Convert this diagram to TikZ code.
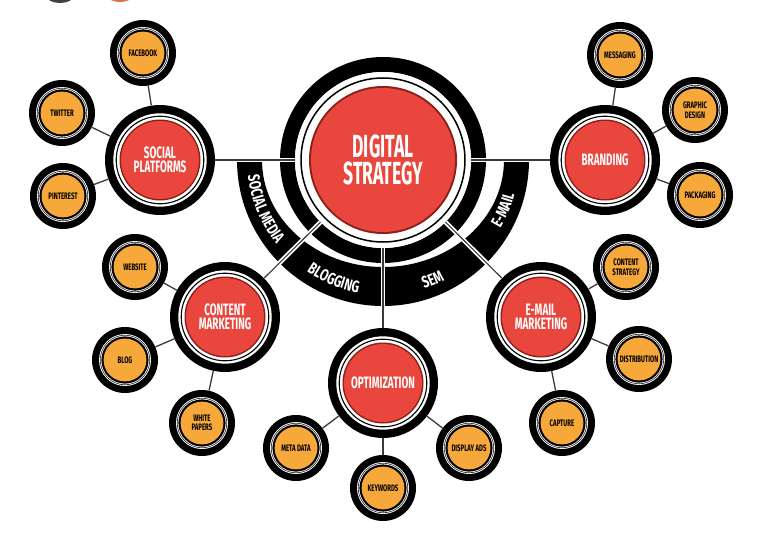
\documentclass[tikz,border=0pt]{standalone}
\usepackage{fontspec}
\usetikzlibrary{decorations.text}
\newfontfamily\hubfont{Fira Sans}[FakeStretch=0.55]
\newfontfamily\redfont{Fira Sans}[FakeStretch=0.6]
\newfontfamily\orfont{Fira Sans}[FakeStretch=0.64]
\newfontfamily\bandfont{Fira Sans}[FakeStretch=0.72]
\definecolor{redc}{HTML}{E9473D}
\definecolor{redd}{HTML}{8E1F1A}
\definecolor{orangec}{HTML}{F7A83B}
\definecolor{linec}{HTML}{3A3A3A}
\definecolor{logoor}{HTML}{E0703A}
\begin{document}
\begin{tikzpicture}[x=1pt,y=-1pt,
  leaf/.style={circle, inner sep=0pt, minimum size=66pt, fill=black, align=center,
    text=black, font=\orfont\bfseries\fontsize{9.4}{9.6}\selectfont,
    path picture={
      \fill[white] (path picture bounding box.center) circle (26pt);
      \fill[black] (path picture bounding box.center) circle (23.6pt);
      \draw[black!85, line width=0.6pt] (path picture bounding box.center) circle (24.8pt);
      \fill[orangec] (path picture bounding box.center) circle (21.4pt);}},
  subhub/.style={circle, inner sep=0pt, minimum size=110pt, fill=black, align=center,
    text=white, font=\redfont\bfseries\fontsize{16.5}{14}\selectfont,
    path picture={
      \fill[white] (path picture bounding box.center) circle (46.7pt);
      \draw[black, line width=1.1pt] (path picture bounding box.center) circle (43.8pt);
      \fill[redd] (path picture bounding box.center) circle (40.5pt);
      \fill[redc] (path picture bounding box.center) circle (39pt);}},
  hubnode/.style={circle, inner sep=0pt, minimum size=176pt, fill=white, align=center,
    text=white, font=\hubfont\bfseries\fontsize{32}{27}\selectfont,
    path picture={
      \draw[black, line width=1.5pt] (path picture bounding box.center) circle (82pt);
      \fill[redd] (path picture bounding box.center) circle (74pt);
      \fill[redc] (path picture bounding box.center) circle (72pt);}},
  hubconn/.style={draw=linec, line width=1.1pt, preaction={draw=white, line width=4.5pt}},
  leafconn/.style={draw=linec, line width=1.3pt},
  bandtext/.style={decorate, decoration={text along path, text align=center,
    text={|\color{white}\bandfont\bfseries\fontsize{16.5}{16.5}\selectfont|#1}}}
]
\useasboundingbox (0,0) rectangle (764,543);
% cropped logo fragments at the top edge
\fill[black!75] (60,-20) circle (23pt);
\fill[logoor] (120,-20) circle (22pt);

\coordinate (c) at (383,160);
% outer label band (lower half) and inner ring
\fill[black] (c) ++(0:146) arc[start angle=0, end angle=180, radius=146]
  -- ++(25,0) arc[start angle=180, end angle=0, x radius=121, y radius=107] -- cycle;
\draw[black, line width=15pt] (c) circle (95.5pt);
\path[bandtext={SOCIAL MEDIA}] (c) ++(180:136) arc[start angle=180, end angle=135, radius=136];
\path[bandtext={BLOGGING}] (c) ++(135:135) arc[start angle=135, end angle=90, radius=135];
\path[bandtext={SEM}] (c) ++(90:135) arc[start angle=90, end angle=45, radius=135];
\path[bandtext={E-MAIL}] (c) ++(45:136) arc[start angle=45, end angle=0, radius=136];

\node[hubnode] (hub) at (c) {DIGITAL\\STRATEGY};

\node[subhub] (sp) at (160,160) {SOCIAL\\PLATFORMS};
\node[subhub] (br) at (605,160) {BRANDING};
\node[subhub] (cm) at (225,317) {CONTENT\\MARKETING};
\node[subhub] (em) at (541,317) {E-MAIL\\MARKETING};
\node[subhub] (op) at (383,383) {OPTIMIZATION};

\node[leaf] (fb) at (143,53) {FACEBOOK};
\node[leaf] (tw) at (62,113) {TWITTER};
\node[leaf] (pi) at (63,196) {PINTEREST};
\node[leaf] (ms) at (620,55) {MESSAGING};
\node[leaf] (gd) at (695,110) {GRAPHIC\\DESIGN};
\node[leaf] (pk) at (700,195) {PACKAGING};
\node[leaf] (ws) at (135,267) {WEBSITE};
\node[leaf] (bl) at (125,360) {BLOG};
\node[leaf] (wp) at (202,423) {WHITE\\PAPERS};
\node[leaf] (cs) at (626,267) {CONTENT\\STRATEGY};
\node[leaf] (ds) at (639,359) {DISTRIBUTION};
\node[leaf] (cp) at (562,423) {CAPTURE};
\node[leaf] (md) at (296,448) {META DATA};
\node[leaf] (kw) at (383,488) {KEYWORDS};
\node[leaf] (da) at (469,448) {DISPLAY ADS};

\draw[hubconn] (hub) -- (sp);
\draw[hubconn] (hub) -- (br);
\draw[hubconn] (hub) -- (cm);
\draw[hubconn] (hub) -- (em);
\draw[hubconn] (hub) -- (op);

\foreach \a/\b in {sp/fb, sp/tw, sp/pi, br/ms, br/gd, br/pk, cm/ws, cm/bl, cm/wp,
                   em/cs, em/ds, em/cp, op/md, op/kw, op/da}
  \draw[leafconn] (\a) -- (\b);
\end{tikzpicture}
\end{document}
